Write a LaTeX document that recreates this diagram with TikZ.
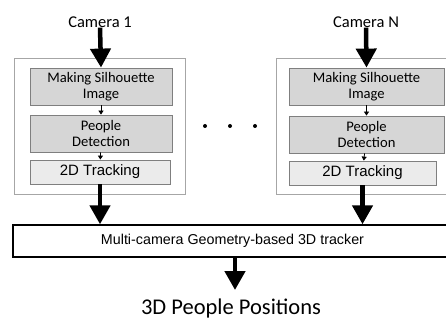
\documentclass[tikz,border=0pt]{standalone}
\usepackage{fontspec}
\setmainfont{Carlito}
\newfontfamily\arialfont{Liberation Sans}
\usetikzlibrary{positioning,arrows.meta,calc}
\definecolor{boxgray}{HTML}{D6D6D6}
\definecolor{trkgray}{HTML}{EBEBEB}
\definecolor{edgegray}{HTML}{7F7F7F}
\definecolor{framegray}{HTML}{A6A6A6}

\begin{document}
\begin{tikzpicture}[
  x=1pt,y=-1pt,
  cam/.style={font=\fontsize{16.5}{18}\selectfont,inner sep=0pt},
  frame/.style={draw=framegray,line width=0.8pt,minimum height=136pt},
  stage/.style={draw=edgegray,line width=0.8pt,fill=boxgray,minimum height=37pt,align=center,
    font=\fontsize{14.6}{16}\selectfont},
  trk/.style={draw=edgegray,line width=0.8pt,fill=trkgray,minimum height=24pt,
    font=\arialfont\fontsize{15}{16}\selectfont},
  big/.style={-{Triangle[length=19pt,width=20pt]},line width=4.5pt},
  small/.style={-{Triangle[length=4pt,width=5pt]},line width=0.8pt}
]
\useasboundingbox (0,0) rectangle (446,320);
\node[cam] (cam1) at (100,22) {Camera 1};
\node[cam] (camN) at (366,22) {Camera N};
\node[frame,minimum width=171pt] (box1) at (99.5,126) {};
\node[frame,minimum width=190pt] (boxN) at (371,126) {};
\node[stage,minimum width=142pt] (sil1) at (101,86.5) {Making Silhouette\\Image};
\node[stage,minimum width=142pt] (det1) at (101,133.5) {People\\Detection};
\node[trk,minimum width=140pt] (trk1) at (100,172) {2D Tracking};
\node[stage,minimum width=155pt] (silN) at (366.5,86.5) {Making Silhouette\\Image};
\node[stage,minimum width=155pt] (detN) at (366.5,134.5) {People\\Detection};
\node[trk,minimum width=147pt] (trkN) at (362.5,173) {2D Tracking};
% dots between the cameras
\foreach \x in {205,230,255}
  \fill (\x,126) circle (2pt);
\node[draw,line width=1.4pt,minimum width=439pt,minimum height=32pt,
  font=\arialfont\fontsize{14.3}{16}\selectfont] (geo) at (232.5,241) {Multi-camera Geometry-based 3D tracker};
\node[anchor=base,font=\fontsize{22.5}{24}\selectfont,inner sep=0pt] (out) at (231,314) {3D People Positions};
\draw[big] (cam1.south) -- (sil1.north);
\draw[big] (camN.south) -- (silN.north);
\draw[small] (sil1) -- (det1);
\draw[small] (det1) -- (trk1);
\draw[small] (silN) -- (detN);
\draw[small] (detN) -- (trkN);
\draw[big] (trk1.south) -- (trk1.south |- geo.north);
\draw[big] (trkN.south) -- (trkN.south |- geo.north);
\draw[big] (geo.south -| 235,0) -- (235,290);
\end{tikzpicture}
\end{document}
